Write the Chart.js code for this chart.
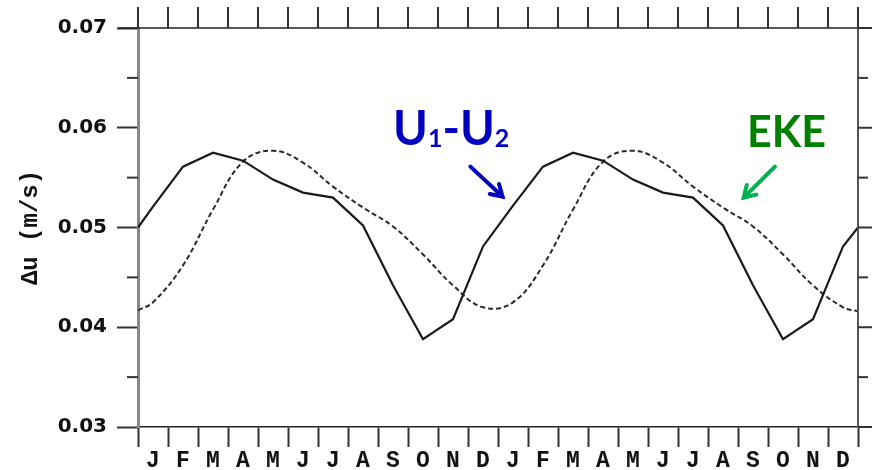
<!DOCTYPE html>
<html>
<head>
<meta charset="utf-8">
<script src="https://cdn.jsdelivr.net/npm/chart.js@4/dist/chart.umd.min.js"></script>
<style>
  html,body{margin:0;padding:0;background:#fff;}
  #wrap{width:872px;height:470px;}
</style>
</head>
<body>
<div id="wrap"><canvas id="c" width="872" height="470"></canvas></div>
<script>
// two years of monthly climatology, plotted at mid-month
const months = ['J','F','M','A','M','J','J','A','S','O','N','D','J','F','M','A','M','J','J','A','S','O','N','D'];
const u12Values = [0.0521,0.0561,0.0575,0.0567,0.0548,0.0535,0.0530,0.0502,0.0442,0.0388,0.0408,0.0481,
                   0.0522,0.0561,0.0575,0.0567,0.0548,0.0535,0.0530,0.0502,0.0442,0.0388,0.0408,0.0481];
const ekeValues = [0.0425,0.0462,0.0518,0.0566,0.0577,0.0565,0.0541,0.0520,0.0501,0.0473,0.0442,0.0420,
                   0.0425,0.0462,0.0518,0.0566,0.0577,0.0565,0.0541,0.0520,0.0501,0.0473,0.0442,0.0420];
// value of each curve where it meets the left / right frame
const u12Edges = [0.0500, 0.0500];
const ekeEdges = [0.0417, 0.0416];
const yMajor = [0.03,0.04,0.05,0.06,0.07];
const yMinor = [0.035,0.045,0.055,0.065];

function toPoints(vals, edges){
  const pts = [{x:0, y:edges[0]}];
  vals.forEach((v,i)=> pts.push({x:i+0.5, y:v}));
  pts.push({x:vals.length, y:edges[1]});
  return pts;
}

// frame: top/right lines, top ticks, minor ticks, right ticks
const frame = {
  id:'frame',
  afterDraw(chart){
    const {ctx, chartArea:a} = chart;
    const xs = chart.scales.xd, ys = chart.scales.y;
    ctx.save();
    ctx.strokeStyle = '#222';
    ctx.lineWidth = 1.5;
    ctx.beginPath(); ctx.moveTo(a.left-20, a.top); ctx.lineTo(a.right+14, a.top); ctx.stroke();
    ctx.strokeStyle = '#555'; ctx.lineWidth = 2;
    ctx.beginPath(); ctx.moveTo(a.right, a.top); ctx.lineTo(a.right, a.bottom); ctx.stroke();
    // top ticks at month boundaries
    ctx.strokeStyle = '#333'; ctx.lineWidth = 2;
    for(let i=0;i<=months.length;i++){
      const x = xs.getPixelForValue(i);
      ctx.beginPath(); ctx.moveTo(x, a.top); ctx.lineTo(x, a.top-21); ctx.stroke();
    }
    // left minor ticks
    yMinor.forEach(v=>{
      const y = ys.getPixelForValue(v);
      ctx.beginPath(); ctx.moveTo(a.left-11, y); ctx.lineTo(a.left, y); ctx.stroke();
      ctx.beginPath(); ctx.moveTo(a.right, y); ctx.lineTo(a.right+10, y); ctx.stroke();
    });
    yMajor.forEach(v=>{
      const y = ys.getPixelForValue(v);
      ctx.beginPath(); ctx.moveTo(a.right, y); ctx.lineTo(a.right+16, y); ctx.stroke();
    });
    ctx.restore();
  }
};

// labels + arrows placed in data space
const notes = {
  id:'notes',
  afterDraw(chart){
    const ctx = chart.ctx;
    const xs = chart.scales.xd, ys = chart.scales.y;
    const px = v => xs.getPixelForValue(v), py = v => ys.getPixelForValue(v);
    ctx.save();
    ctx.textBaseline = 'alphabetic';
    // U1-U2
    let x = px(8.5); const yb = py(0.0583);
    ctx.fillStyle = '#0000C0';
    const parts = [['U',47,0],['1',25,1],['-',47,0],['U',47,0],['2',25,1]];
    parts.forEach(([t,s,sub])=>{
      ctx.font = 'bold ' + s + 'px Lato';
      ctx.fillText(t, x, yb + (sub?2:0));
      x += ctx.measureText(t).width;
    });
    // EKE
    ctx.fillStyle = '#008000';
    ctx.font = 'bold 43px Lato';
    ctx.fillText('EKE', px(20.3), py(0.0581));
    arrow(ctx, px(11.08), py(0.0561), px(12.15), py(0.0531), '#0000C0');
    arrow(ctx, px(21.23), py(0.0561), px(20.19), py(0.0530), '#00B050');
    ctx.restore();
  }
};

function arrow(ctx, x1, y1, x2, y2, col){
  const ang = Math.atan2(y2-y1, x2-x1), h = 13;
  ctx.strokeStyle = col; ctx.lineWidth = 4; ctx.lineCap = 'round';
  ctx.beginPath(); ctx.moveTo(x1,y1); ctx.lineTo(x2,y2); ctx.stroke();
  ctx.beginPath();
  ctx.moveTo(x2 - h*Math.cos(ang-0.55), y2 - h*Math.sin(ang-0.55));
  ctx.lineTo(x2, y2);
  ctx.lineTo(x2 - h*Math.cos(ang+0.55), y2 - h*Math.sin(ang+0.55));
  ctx.stroke();
}

new Chart(document.getElementById('c'), {
  type:'line',
  data:{
    labels: months,
    datasets:[
      { label:'U1-U2', data: toPoints(u12Values, u12Edges), xAxisID:'xd', yAxisID:'y',
        borderColor:'#1a1a1a', borderWidth:2.2, pointRadius:0, tension:0 },
      { label:'EKE', data: toPoints(ekeValues, ekeEdges), xAxisID:'xd', yAxisID:'y',
        borderColor:'#2a2a2a', borderWidth:2, borderDash:[5,3], pointRadius:0, tension:0.4 }
    ]
  },
  options:{
    responsive:false, animation:false, devicePixelRatio:1,
    layout:{ padding:{ top:28, right:14, left:0, bottom:0 } },
    plugins:{ legend:{display:false}, tooltip:{enabled:false} },
    scales:{
      xd:{ type:'linear', display:false, min:0, max:24 },
      x:{ type:'category', position:'bottom', offset:true,
        grid:{ offset:true, drawOnChartArea:false, tickLength:20, tickColor:'#333', tickWidth:2 },
        border:{ display:true, color:'#222', width:1.5 },
        ticks:{ autoSkip:false, maxRotation:0, padding:0, color:'#111',
          font:{ family:'Liberation Mono', weight:'bold', size:23 } },
        afterFit(s){ s.height = 43; }
      },
      y:{ min:0.03, max:0.07,
        grid:{ drawOnChartArea:false, tickLength:21, tickColor:'#333', tickWidth:2 },
        border:{ display:true, color:'#888', width:3 },
        ticks:{ stepSize:0.01, padding:10, color:'#111', callback:v=>v.toFixed(2),
          font:{ family:'DejaVu Sans', weight:'bold', size:20 } },
        title:{ display:true, text:'Δu (m/s)', color:'#111', padding:{top:17, bottom:0},
          font:{ family:'Liberation Mono', weight:'bold', size:24 } },
        afterFit(s){ s.width = 138; }
      }
    }
  },
  plugins:[frame, notes]
});
</script>
</body>
</html>
